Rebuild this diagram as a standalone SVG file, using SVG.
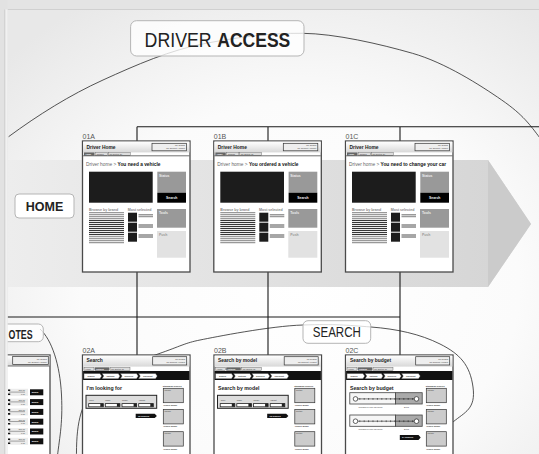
<svg xmlns="http://www.w3.org/2000/svg" width="539" height="454" viewBox="0 0 539 454">
<defs>
<style>
text{font-family:"Liberation Sans",Arial,sans-serif}
.scr{fill:#fff;stroke:#4a4a4a;stroke-width:1.3}
.ln{stroke:#1a1a1a;stroke-width:1.1;fill:none}
.arc{stroke:#2a2a2a;stroke-width:0.8;fill:none}
.lab{fill:#fff;fill-opacity:.78;stroke:#b5b5b5;stroke-width:1}
.id{font-size:7px;fill:#555}
.ti{font-size:4.9px;font-weight:bold;fill:#222}
.bc{font-size:4.8px;fill:#666}
.bcb{font-weight:bold;fill:#111}
.tx{font-size:2.1px;fill:#333}
.txw{font-size:2.1px;fill:#fff;font-weight:bold}
.sm{font-size:3.6px;fill:#888;font-weight:bold}
.wt{font-size:3.4px;fill:#eee;font-weight:bold}
.hd{font-size:5.2px;font-weight:bold;fill:#222}
.acc{fill:#eee;stroke:#333;stroke-width:0.7}
.tab{fill:#ddd;stroke:#555;stroke-width:0.4}
.step{fill:#fff;stroke:#333;stroke-width:0.4}
.thumb{fill:#ccc;stroke:#333;stroke-width:0.7}
.dd{fill:#fff;stroke:#222;stroke-width:0.8}
.blk{fill:#111}
</style>
<radialGradient id="pg" cx="0.55" cy="0.62" r="0.75">
<stop offset="0" stop-color="#ffffff"/>
<stop offset="0.55" stop-color="#fbfbfb"/>
<stop offset="1" stop-color="#e8e8e8"/>
</radialGradient>
<linearGradient id="band" x1="0" y1="0" x2="1" y2="0">
<stop offset="0" stop-color="#ededed"/>
<stop offset="1" stop-color="#d4d4d4"/>
</linearGradient>
<linearGradient id="hdr" x1="0" y1="0" x2="0" y2="1">
<stop offset="0" stop-color="#ffffff"/>
<stop offset="1" stop-color="#d8d8d8"/>
</linearGradient>

<g id="tpl01">
<rect class="scr" width="107.5" height="131"/>
<rect x="0.6" y="0.6" width="106.3" height="10.8" fill="url(#hdr)"/>
<text class="ti" x="4" y="8.2">Driver Home</text>
<rect class="acc" x="69.5" y="2.3" width="34.5" height="7.5"/>
<text class="tx" x="102.5" y="5" text-anchor="end">My Search</text>
<text class="tx" x="102.5" y="8.3" text-anchor="end">My account | Logout</text>
<rect x="1.5" y="11.4" width="10.5" height="3.2" fill="#666"/>
<text class="txw" x="3" y="13.7">Home</text>
<rect class="tab" x="12.6" y="11.4" width="12.5" height="3.2"/>
<text class="tx" x="14" y="13.7">Catalog</text>
<rect class="tab" x="25.7" y="11.4" width="22" height="3.2"/>
<text class="tx" x="27" y="13.7">My quotes (5)</text>
<line x1="0.6" y1="14.8" x2="106.9" y2="14.8" stroke="#333" stroke-width="0.7"/>
<rect x="6.5" y="30.7" width="63.7" height="31" fill="#1c1c1c"/>
<rect x="74.8" y="30.7" width="28.7" height="21" fill="#999"/>
<text class="wt" x="76.5" y="36.2">Status</text>
<rect x="74.8" y="51.7" width="28.7" height="10" fill="#000"/>
<text class="wt" x="89.2" y="58" text-anchor="middle" font-size="4">Search</text>
<text class="sm" x="6.5" y="69.6">Browse by brand</text>
<text class="sm" x="45.2" y="69.6">Most selected</text>
<path d="M6.5,71.6H41.5M6.5,73.6H41.5M6.5,75.6H41.5M6.5,77.6H41.5M6.5,95.6H41.5M6.5,97.6H41.5M6.5,99.6H41.5M6.5,101.6H41.5" stroke="#999" stroke-width="1.2"/>
<path d="M6.5,79.6H41.5M6.5,81.6H41.5M6.5,83.6H41.5M6.5,85.6H41.5M6.5,87.6H41.5M6.5,89.6H41.5M6.5,91.6H41.5M6.5,93.6H41.5" stroke="#222" stroke-width="1"/>
<rect x="45.5" y="71.7" width="9" height="9" fill="#1c1c1c"/>
<rect x="45.5" y="81.7" width="9" height="9" fill="#1c1c1c"/>
<rect x="45.5" y="91.7" width="9" height="9" fill="#1c1c1c"/>
<path d="M56,73.6H70.5M56,75.5H70.5" stroke="#999" stroke-width="1.3"/>
<path d="M56,84H70.5M56,86H70.5M56,94H70.5M56,96H70.5" stroke="#222" stroke-width="0.8"/>
<rect x="74.5" y="68" width="29" height="18.7" fill="#999"/>
<text class="wt" x="76.5" y="72.6">Tools</text>
<rect x="74.5" y="90" width="29" height="26.7" fill="#e2e2e2"/>
<text class="wt" x="76.5" y="94.6" style="fill:#999">Push</text>
</g>

<g id="tpl02">
<rect class="scr" width="107.5" height="115"/>
<rect x="0.6" y="0.6" width="106.3" height="11" fill="url(#hdr)"/>
<rect class="acc" x="70.2" y="1.7" width="34" height="8.3"/>
<text class="tx" x="102.7" y="4.6" text-anchor="end">My Search</text>
<text class="tx" x="102.7" y="8.3" text-anchor="end">My account | Logout</text>
<rect class="tab" x="1.5" y="12.3" width="10" height="3.4"/>
<text class="tx" x="2.8" y="14.7">Home</text>
<rect x="12.2" y="12.3" width="14.6" height="3.4" fill="#666"/>
<text class="txw" x="13.6" y="14.7">Catalog</text>
<rect class="tab" x="27.5" y="12.3" width="20" height="3.4"/>
<text class="tx" x="28.8" y="14.7">My quotes (5)</text>
<rect x="0.6" y="16" width="106.3" height="9" fill="#111"/>
<polygon class="step" points="1.5,18.5 17.5,18.5 19.2,21.1 17.5,23.7 1.5,23.7"/>
<polygon class="step" points="19.5,18.5 35.8,18.5 37.5,21.1 35.8,23.7 19.5,23.7 21.2,21.1"/>
<polygon class="step" points="37.8,18.5 54,18.5 55.8,21.1 54,23.7 37.8,23.7 39.5,21.1"/>
<polygon class="step" points="56,18.5 73,18.5 74.8,21.1 73,23.7 56,23.7 57.7,21.1"/>
<text class="tx" x="5" y="21.9" font-weight="bold">Search</text>
<text class="tx" x="24" y="21.9" font-weight="bold">Options</text>
<text class="tx" x="42" y="21.9" font-weight="bold">Services</text>
<text class="tx" x="60.5" y="21.9" font-weight="bold">Checkout</text>
<text class="tx" x="80.2" y="31.5" font-weight="bold">Standards vehicles</text>
<rect class="thumb" x="80.8" y="33.3" width="20" height="14.4"/>
<rect class="thumb" x="80.8" y="54.5" width="20" height="14.4"/>
<rect class="thumb" x="80.8" y="76.7" width="20" height="14.4"/>
<text class="tx" x="82" y="35.9">Picture</text>
<text class="tx" x="82" y="57.1">Picture</text>
<text class="tx" x="82" y="79.3">Picture</text>
<text class="tx" x="80.8" y="51" font-weight="bold">Vehicle model</text>
<text class="tx" x="80.8" y="72.3" font-weight="bold">Vehicle model</text>
<text class="tx" x="80.8" y="94.5" font-weight="bold">Vehicle model</text>
</g>

<g id="tplform">
<rect x="3.5" y="40.3" width="70.7" height="13" fill="#ddd" stroke="#222" stroke-width="1"/>
<text class="tx" x="6.8" y="45.6" font-size="2.6">Type</text>
<text class="tx" x="22.8" y="45.6" font-size="2.6">Make</text>
<text class="tx" x="39.5" y="45.6" font-size="2.6">Model</text>
<text class="tx" x="56.2" y="45.6" font-size="2.6">Variant</text>
<rect class="dd" x="6.2" y="48.6" width="14.6" height="3.2"/>
<rect class="dd" x="22.8" y="48.6" width="14.6" height="3.2"/>
<rect class="dd" x="39.5" y="48.6" width="14.6" height="3.2"/>
<rect class="dd" x="56.2" y="48.6" width="14.6" height="3.2"/>
<path d="M17.8,48.6h3v3.2h-3zM34.4,48.6h3v3.2h-3zM51.1,48.6h3v3.2h-3zM67.8,48.6h3v3.2h-3z" fill="#222"/>
<polygon class="blk" points="53.2,58.7 72.2,58.7 74.4,60.9 72.2,63.1 53.2,63.1"/>
<text class="txw" x="55.5" y="61.8" font-size="2.4">12 vehicles</text>
</g>

<g id="slider">
<rect x="0" y="0" width="45.7" height="11.3" fill="#f6f6f6" stroke="#444" stroke-width="0.8"/>
<rect x="45.7" y="0" width="26.7" height="11.3" fill="#aaa" stroke="#444" stroke-width="0.8"/>
<line x1="5.7" y1="6.2" x2="66.7" y2="6.2" stroke="#222" stroke-width="0.6"/>
<path d="M10,5.3v1.8M14.4,5.3v1.8M18.8,5.3v1.8M23.2,5.3v1.8M27.6,5.3v1.8M32,5.3v1.8M36.4,5.3v1.8M40.8,5.3v1.8M45.2,5.3v1.8M49.6,5.3v1.8M54,5.3v1.8M58.4,5.3v1.8M62.8,5.3v1.8" stroke="#222" stroke-width="0.6"/>
<circle cx="5.7" cy="6.2" r="2.3" fill="#fff" stroke="#222" stroke-width="0.7"/>
<circle cx="66.7" cy="6.2" r="2.3" fill="#fff" stroke="#222" stroke-width="0.7"/>
</g>
</defs>

<rect width="539" height="454" fill="#e4e4e4"/>
<rect x="7.5" y="9.5" width="532" height="445" fill="url(#pg)"/>
<line x1="7.5" y1="9.5" x2="539" y2="9.5" stroke="#d0d0d0"/>

<g id="home-band">
<polygon points="7.5,160 488,160 531,224 488,287 7.5,287" fill="url(#band)"/>
<polygon points="488,160 531,224 488,287" fill="#cbcbcb"/>
</g>

<g id="group-curves">
<path class="arc" d="M8.6,136.7 C38,115 70,95 103,80 S170,50 206,43.3 S270,33 302.5,33.3 S380,44 412.5,53.3 S480,85 501.7,100 S530,125 540,138"/>
<path class="arc" d="M76.5,460 C76,425 80,405 95,388 S135,362 158,354 S185,343 200,340 S270,326 303,325 S345,325 371,327 S420,334 440,344 S470,365 473,387 S465,412 453,422 S440,432 430,436"/>
<path class="arc" d="M40,329 C52,340 60,365 61.5,395 S59,440 57,460"/>
</g>

<g id="connectors">
<path class="ln" d="M137,126.7H539M137,126.7V141M268,126.7V141M400,126.7V141"/>
<path class="ln" d="M137,272V355M268,272V355M400,272V355M7.5,317H400"/>
</g>

<g id="label-driver-access">
<rect class="lab" x="130.6" y="20.7" width="173.4" height="35.3" rx="6"/>
<text x="144.6" y="46.7" font-size="20.5" fill="#222" textLength="67" lengthAdjust="spacingAndGlyphs">DRIVER</text>
<text x="217.3" y="46.7" font-size="20.5" font-weight="bold" fill="#222" textLength="73" lengthAdjust="spacingAndGlyphs">ACCESS</text>
</g>

<g id="label-home">
<rect class="lab" x="15" y="194" width="59" height="24" rx="4" style="fill-opacity:1"/>
<text x="44.5" y="210.6" font-size="12.5" font-weight="bold" fill="#222" text-anchor="middle">HOME</text>
</g>

<g id="screen-01A" transform="translate(82.5,141)">
<text class="id" x="0" y="-2">01A</text>
<use href="#tpl01"/>
<text class="bc" x="3.5" y="25">Driver home &gt; <tspan class="bcb">You need a vehicle</tspan></text>
</g>
<g id="screen-01B" transform="translate(213.8,141)">
<text class="id" x="0" y="-2">01B</text>
<use href="#tpl01"/>
<text class="bc" x="3.5" y="25">Driver home &gt; <tspan class="bcb">You ordered a vehicle</tspan></text>
</g>
<g id="screen-01C" transform="translate(345.5,141)">
<text class="id" x="0" y="-2">01C</text>
<use href="#tpl01"/>
<text class="bc" x="3.5" y="25">Driver home &gt; <tspan class="bcb">You need to change your car</tspan></text>
</g>

<g id="label-search">
<rect class="lab" x="303" y="320.7" width="67.7" height="22.6" rx="5"/>
<text x="312.8" y="337.3" font-size="14" fill="#222" textLength="48" lengthAdjust="spacingAndGlyphs">SEARCH</text>
</g>

<g id="screen-02A" transform="translate(82.5,355)">
<text class="id" x="0" y="-2.3">02A</text>
<use href="#tpl02"/>
<text class="ti" x="4" y="7.4">Search</text>
<text class="hd" x="4" y="35">I'm looking for</text>
<use href="#tplform"/>
</g>
<g id="screen-02B" transform="translate(214,355)">
<text class="id" x="0" y="-2.3">02B</text>
<use href="#tpl02"/>
<text class="ti" x="4" y="7.4">Search by model</text>
<text class="hd" x="4" y="35">Search by model</text>
<use href="#tplform"/>
</g>
<g id="screen-02C" transform="translate(345.5,355)">
<text class="id" x="0" y="-2.3">02C</text>
<use href="#tpl02"/>
<text class="ti" x="4.5" y="7.4">Search by budget</text>
<text class="hd" x="4.5" y="35">Search by budget</text>
<use href="#slider" transform="translate(4.3,37.7)"/>
<text class="tx" x="13" y="53">Included in your car policy</text>
<text class="tx" x="58.5" y="53">Extra</text>
<use href="#slider" transform="translate(4.3,60)"/>
<text class="tx" x="13" y="75.3">Included in your car policy</text>
<text class="tx" x="58.5" y="75.3">Extra</text>
<polygon class="blk" points="54.3,80 73,80 75.2,82.5 73,85 54.3,85"/>
<text class="txw" x="56.5" y="83.3" font-size="2.4">34 vehicles</text>
</g>

<g id="label-notes">
<rect class="lab" x="-20" y="324" width="63.3" height="17.7" rx="5"/>
<text x="8.6" y="338.8" font-size="12.5" font-weight="bold" fill="#222" textLength="24" lengthAdjust="spacingAndGlyphs">OTES</text>
</g>

<g id="screen-notes">
<rect class="scr" x="-60" y="355" width="110" height="115"/>
<rect x="-59" y="355.6" width="108.4" height="10.4" fill="url(#hdr)"/>
<rect class="acc" x="12.7" y="356.6" width="35.6" height="8"/>
<text class="tx" x="46.8" y="359.6" text-anchor="end">My Search</text>
<text class="tx" x="46.8" y="363" text-anchor="end">My account | Logout</text>
<line x1="-59" y1="366" x2="49.4" y2="366" stroke="#333" stroke-width="0.7"/>
<g id="notes-rows">
<rect x="8" y="388.8" width="20" height="7" fill="#ececec"/>
<rect x="8" y="398.6" width="20" height="7" fill="#ececec"/>
<rect x="8" y="408.4" width="20" height="7" fill="#ececec"/>
<rect x="8" y="418.2" width="20" height="7" fill="#ececec"/>
<rect x="8" y="428" width="20" height="7" fill="#ececec"/>
<rect x="8" y="437.8" width="20" height="7" fill="#ececec"/>
<path d="M9,392.1H25M9,401.9H25M9,411.7H25M9,421.5H25M9,431.3H25M9,441.1H25" stroke="#555" stroke-width="0.5"/>
<path d="M8,389.5h2.2v1.6h-2.2zM8,393.5h2.2v1.6h-2.2zM8,399.3h2.2v1.6h-2.2zM8,403.3h2.2v1.6h-2.2zM8,409.1h2.2v1.6h-2.2zM8,413.1h2.2v1.6h-2.2zM8,418.9h2.2v1.6h-2.2zM8,422.9h2.2v1.6h-2.2zM8,428.7h2.2v1.6h-2.2zM8,432.7h2.2v1.6h-2.2zM8,438.5h2.2v1.6h-2.2zM8,442.5h2.2v1.6h-2.2z" fill="#111"/>
<text class="tx" x="25" y="391.2" text-anchor="end">500.00</text>
<text class="tx" x="25" y="395" text-anchor="end">0.00</text>
<text class="tx" x="25" y="401" text-anchor="end">500.00</text>
<text class="tx" x="25" y="404.8" text-anchor="end">0.00</text>
<text class="tx" x="25" y="410.8" text-anchor="end">500.00</text>
<text class="tx" x="25" y="414.6" text-anchor="end">0.00</text>
<text class="tx" x="25" y="420.6" text-anchor="end">500.00</text>
<text class="tx" x="25" y="424.4" text-anchor="end">0.00</text>
<text class="tx" x="25" y="430.4" text-anchor="end">500.00</text>
<text class="tx" x="25" y="434.2" text-anchor="end">0.00</text>
<text class="tx" x="25" y="440.2" text-anchor="end">500.00</text>
<text class="tx" x="25" y="444" text-anchor="end">0.00</text>
<rect class="blk" x="30" y="389.3" width="13.3" height="6"/>
<rect class="blk" x="30" y="399.1" width="13.3" height="6"/>
<rect class="blk" x="30" y="408.9" width="13.3" height="6"/>
<rect class="blk" x="30" y="418.7" width="13.3" height="6"/>
<rect class="blk" x="30" y="428.5" width="13.3" height="6"/>
<rect class="blk" x="30" y="438.3" width="13.3" height="6"/>
<text class="txw" x="31.8" y="393.1">Modify</text>
<text class="txw" x="31.8" y="402.9">Modify</text>
<text class="txw" x="31.8" y="412.7">Modify</text>
<text class="txw" x="31.8" y="422.5">Modify</text>
<text class="txw" x="31.8" y="432.3">Modify</text>
<text class="txw" x="31.8" y="442.1">Modify</text>
</g>
</g>

<g id="frame-left">
<rect x="0" y="0" width="7.5" height="454" fill="#e2e2e2"/>
<rect x="5" y="9.5" width="2.5" height="445" fill="#f1f1f1"/>
<line x1="4.8" y1="9.5" x2="4.8" y2="454" stroke="#c8c8c8" stroke-width="0.8"/>
</g>
</svg>
